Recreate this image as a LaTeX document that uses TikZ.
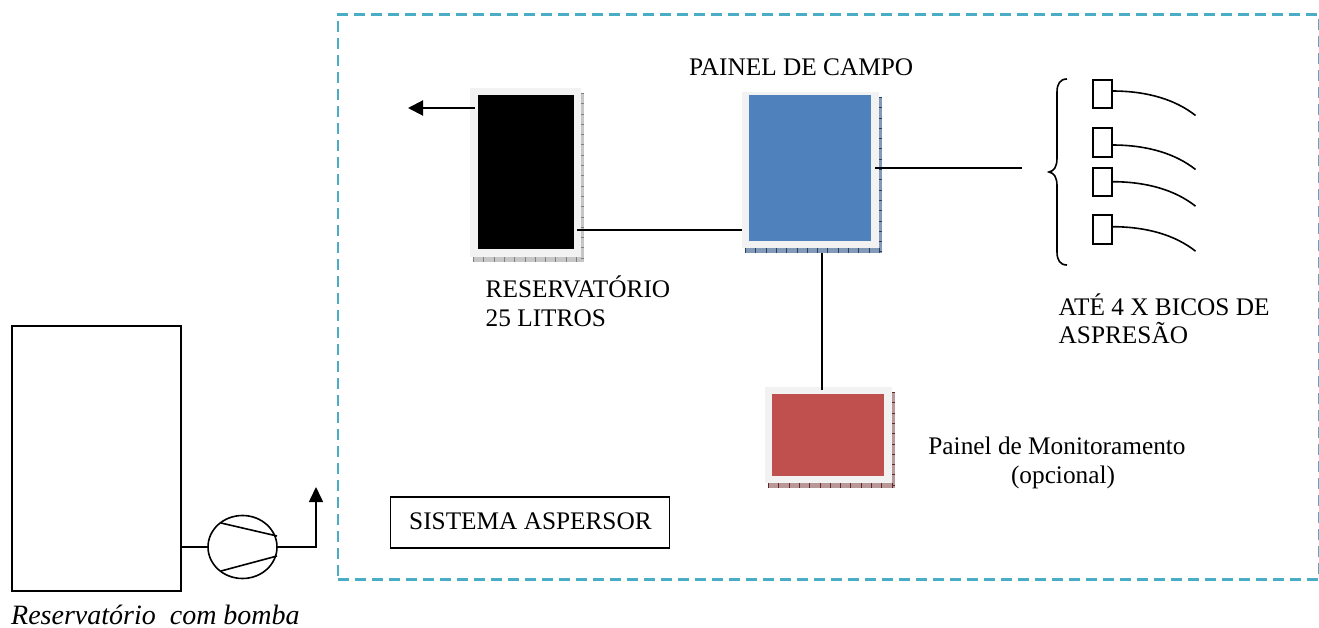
\documentclass[tikz,border=0pt]{standalone}
\usepackage{fontspec}
\setmainfont{Liberation Serif}
\usetikzlibrary{shapes.geometric,arrows.meta}
\definecolor{dashteal}{HTML}{4BACC6}
\definecolor{framegray}{HTML}{F2F2F2}
\definecolor{panelblue}{HTML}{4F81BD}
\definecolor{panelred}{HTML}{C0504D}
\tikzset{
  x=1pt,y=1pt,
  wire/.style={draw=black,line width=2pt},
  thin wire/.style={draw=black,line width=1.6pt},
  lbl/.style={font=\fontsize{25.3}{30}\selectfont,inner sep=0pt,anchor=base west},
  lblc/.style={font=\fontsize{25.3}{30}\selectfont,inner sep=0pt,anchor=base},
  nozzle/.style={draw=black,line width=1.6pt,inner sep=0pt,minimum width=19pt,minimum height=28.5pt},
  panelfill/.style={fill=#1,draw=none,inner sep=0pt},
}
% shadow colour, tick colour, outer x0,y0,x1,y1
\newcommand{\panelframe}[6]{%
  \fill[#1] (#3+3,-#4-5) rectangle (#5+3,-#6-5);
  \fill[framegray] (#3,-#4) rectangle (#5,-#6);
  \draw[#2,line width=4.5pt,dash pattern=on 0.8pt off 9.5pt] (#3+3,-#6-2.5) -- (#5+3,-#6-2.5);
  \draw[#2,line width=2.6pt,dash pattern=on 0.8pt off 9.5pt] (#5+1.5,-#4-5) -- (#5+1.5,-#6-5);
}
\begin{document}
\begin{tikzpicture}
\useasboundingbox (0,0) rectangle (1319,-628);
% dashed frame
\node[draw=dashteal,line width=2.8pt,dash pattern=on 11pt off 6pt,minimum width=981pt,minimum height=564.5pt,inner sep=0pt,anchor=north west] (frame) at (336.5,-13.5) {};
% tank
\node[draw=black,line width=1.6pt,minimum width=169pt,minimum height=265pt,inner sep=0pt,anchor=north west] (tank) at (11,-325) {};
% pump
\node[ellipse,draw=black,line width=1.6pt,minimum width=69pt,minimum height=63pt,inner sep=0pt] (pump) at (242.5,-547) {};
\coordinate (pa) at (221,-523); \coordinate (pb) at (277,-536);
\coordinate (pc) at (221,-571); \coordinate (pd) at (277,-556);
\draw[thin wire] (pa) -- (pb);
\draw[thin wire] (pc) -- (pd);
\coordinate (tankout) at (180,-547);
\draw[thin wire] (tankout) -- ([xshift=2pt]pump.west);
\coordinate (pumpcorner) at (316,-547);
\coordinate (pumptip) at (316,-487);
\draw[thin wire,-{Triangle[length=15pt,width=14pt]}] (pump.east) -- (pumpcorner) -- (pumptip);
% panels
\panelframe{gray!45}{gray}{470}{88}{581}{257}
\node[panelfill=black,minimum width=96pt,minimum height=154pt] (res) at (526,-172) {};
\panelframe{panelblue!60!gray!80}{panelblue!50!black}{742}{92}{879}{248}
\node[panelfill=panelblue,minimum width=122pt,minimum height=146pt] (pan) at (810,-168) {};
\panelframe{panelred!40!gray!70}{panelred!50!black}{765}{387}{892}{483}
\node[panelfill=panelred,minimum width=112pt,minimum height=82pt] (mon) at (828,-435) {};
% connectors
\coordinate (resarrow) at (475,-108);
\coordinate (arrowtip) at (408,-108);
\draw[wire,-{Triangle[length=15pt,width=15pt]}] (resarrow) -- (arrowtip);
\coordinate (resout) at (577,-230);
\coordinate (panin) at (742,-230);
\draw[wire] (resout) -- (panin);
\coordinate (panout) at (875,-168);
\coordinate (nozin) at (1022,-168);
\draw[wire] (panout) -- (nozin);
\coordinate (pandown) at (822,-253);
\coordinate (monup) at (822,-390);
\draw[wire] (pandown) -- (monup);
% brace
\coordinate (bt) at (1067,-79);
\coordinate (bb) at (1067,-265);
\coordinate (bm) at (1049,-172);
\draw[thin wire] (bt) .. controls (1060,-79) and (1057,-84) .. (1057,-92) -- (1057,-158)
  .. controls (1057,-167) and (1054,-171) .. (bm)
  .. controls (1054,-173) and (1057,-177) .. (1057,-186) -- (1057,-252)
  .. controls (1057,-260) and (1060,-265) .. (bb);
% nozzles
\foreach \n/\cy/\ly in {a/94/91,b/142.5/145,c/182/181.7,d/229.5/226.7}{
  \node[nozzle] (noz\n) at (1102.5,-\cy) {};
  \coordinate (start\n) at (1112,-\ly);
  \coordinate (end\n) at (1195.5,-\ly-24.5);
  \draw[thin wire] (start\n) .. controls (1148,-\ly) and (1176,-\ly-9) .. (end\n);
}
% labels
\node[lbl] (t1) at (689,-76) {PAINEL DE CAMPO};
\node[lbl] (t2) at (485.5,-297) {RESERVATÓRIO};
\node[lbl] (t3) at (485.5,-326) {25 LITROS};
\node[lbl] (t4) at (1058.5,-315) {ATÉ 4 X BICOS DE};
\node[lbl] (t5) at (1058.5,-343) {ASPRESÃO};
\node[lblc] (t6) at (1057,-454) {Painel de Monitoramento};
\node[lblc] (t7) at (1063,-483) {(opcional)};
\node[draw=black,line width=1.6pt,minimum width=279pt,minimum height=51pt,inner sep=0pt,anchor=north west] (sys) at (389.5,-496) {};
\node[lbl] (t8) at (409,-529) {SISTEMA ASPERSOR};
\node[lbl,font=\fontsize{28}{30}\selectfont\itshape,text depth=0pt] (t9) at (11,-624) {Reservatório\ \ com bomba};
\end{tikzpicture}
\end{document}
